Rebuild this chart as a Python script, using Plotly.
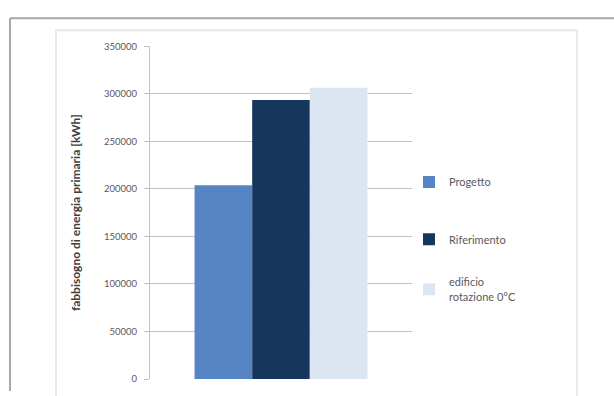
import plotly.graph_objects as go

# Primary energy demand per building variant (kWh)
series_names = ["Progetto", "Riferimento", "edificio<br>rotazione 0°C"]
series_values = [204000, 293500, 306500]
series_colors = ["#5585c5", "#17365d", "#dce6f2"]
category = [""]
tick_values = [0, 50000, 100000, 150000, 200000, 250000, 300000, 350000]
tick_labels = ["0", "50000", "100000", "150000", "200000", "250000", "300000", "350000"]

W, H = 614, 396
grid_col = "#cbbfbb"

# each series gets its own legend box so the entries can be spaced freely
legend_ids = ["legend", "legend2", "legend3"]
legend_tops = [166, 225, 270]

fig = go.Figure()
for name, val, col, lg in zip(series_names, series_values, series_colors, legend_ids):
    fig.add_trace(go.Bar(
        x=category, y=[val], name=name,
        marker=dict(color=col, line=dict(width=0)),
        legend=lg,
    ))

legend_style = dict(
    xanchor="left", yanchor="top",
    font=dict(size=11, color="#595959"),
    itemwidth=30,
    bgcolor="rgba(0,0,0,0)",
)

fig.update_layout(
    width=W, height=H,
    margin=dict(l=0, r=0, t=0, b=0),
    paper_bgcolor="white",
    plot_bgcolor="white",
    barmode="group",
    bargap=0.34,
    bargroupgap=0,
    font=dict(family="Lato, 'Open Sans', sans-serif", color="#595959"),
    showlegend=True,
    xaxis=dict(
        domain=[150 / W, 412 / W],
        showticklabels=False, showgrid=False, zeroline=False,
        showline=False, ticks="",
    ),
    yaxis=dict(
        domain=[1 - 383.7 / H, 1 - 41.5 / H],
        range=[0, 350000],
        tickvals=tick_values, ticktext=tick_labels,
        tickfont=dict(size=9.5, color="#595959"),
        ticks="outside", ticklen=5, tickcolor=grid_col, tickwidth=1,
        ticklabelstandoff=5,
        showgrid=True, gridcolor=grid_col, gridwidth=1,
        showline=True, linecolor=grid_col, linewidth=1,
        zeroline=False,
        title=dict(
            text="<b>fabbisogno di energia primaria [kWh]</b>",
            font=dict(size=12, color="#404040"),
            standoff=20,
        ),
    ),
    shapes=[
        # outer page frame
        dict(type="line", xref="paper", yref="paper",
             x0=10 / W, x1=1, y0=1 - 12.5 / H, y1=1 - 12.5 / H,
             line=dict(color="#a8a8a8", width=2)),
        dict(type="line", xref="paper", yref="paper",
             x0=10 / W, x1=10 / W, y0=0, y1=1 - 12.5 / H,
             line=dict(color="#a8a8a8", width=2)),
        # chart area border
        dict(type="rect", xref="paper", yref="paper",
             x0=56 / W, x1=577 / W, y0=-0.05, y1=1 - 25 / H,
             line=dict(color="#ece8e5", width=2), layer="below"),
    ],
)
for lg, top in zip(legend_ids, legend_tops):
    fig.update_layout({lg: dict(x=409 / W, y=1 - top / H, **legend_style)})

fig.write_html("out.html")
